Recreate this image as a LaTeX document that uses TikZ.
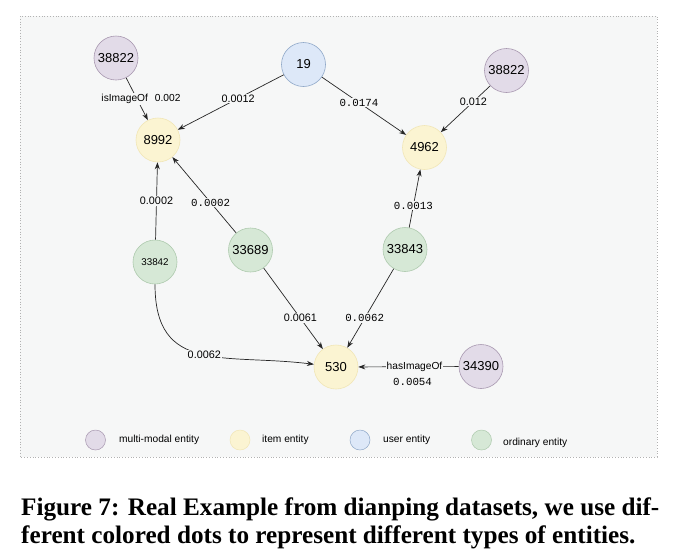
\documentclass[tikz,border=0pt]{standalone}
\usepackage{fontspec}
\setmainfont{Liberation Sans}
\newfontfamily\capfont{Liberation Serif}
\newfontfamily\monof{Liberation Mono}
\usetikzlibrary{arrows.meta}
\definecolor{bgc}{HTML}{F6F7F7}
\definecolor{mmfill}{HTML}{E2DBE8}
\definecolor{mmdraw}{HTML}{A898B0}
\definecolor{itfill}{HTML}{FBF4D2}
\definecolor{itdraw}{HTML}{F1E6B6}
\definecolor{usfill}{HTML}{DDE8F8}
\definecolor{usdraw}{HTML}{8FA8C8}
\definecolor{orfill}{HTML}{D6E8D6}
\definecolor{ordraw}{HTML}{AECAAE}
\begin{document}
\begin{tikzpicture}[x=1pt,y=-1pt,
  ent/.style={circle, minimum size=44pt, inner sep=0pt, line width=0.6pt, font=\fontsize{13}{15}\selectfont},
  mm/.style={ent, fill=mmfill, draw=mmdraw},
  it/.style={ent, fill=itfill, draw=itdraw},
  us/.style={ent, fill=usfill, draw=usdraw},
  od/.style={ent, fill=orfill, draw=ordraw},
  edge/.style={draw=black!85, line width=0.7pt, -{Stealth[length=7pt,width=5pt]}},
  lab/.style={fill=bgc, inner sep=1pt, font=\fontsize{10.8}{12}\selectfont},
  mlab/.style={lab, font=\monof\fontsize{10.8}{12}\selectfont},
  leg/.style={circle, minimum size=20pt, inner sep=0pt, line width=0.5pt},
  legtxt/.style={anchor=west, inner sep=0pt, font=\fontsize{10.2}{12}\selectfont},
  captxt/.style={anchor=base west, inner sep=0pt, font=\capfont\bfseries\fontsize{25.2}{28}\selectfont},
]
\useasboundingbox (0,0) rectangle (675,558);
\fill[white] (0,0) rectangle (675,558);
\draw[fill=bgc, draw=gray!60, dotted, line width=0.8pt] (20,16) rectangle (657,457);

% nodes
\node[mm] (a38822) at (116,58) {38822};
\node[us] (u19) at (303.5,64.5) {19};
\node[mm] (b38822) at (506.5,70.5) {38822};
\node[it] (i8992) at (158,140) {8992};
\node[it] (i4962) at (424.5,147.5) {4962};
\node[od, font=\fontsize{9.8}{11}\selectfont] (o33842) at (155,262) {33842};
\node[od] (o33689) at (250.5,250) {33689};
\node[od] (o33843) at (405,249.5) {33843};
\node[it] (i530) at (336,367) {530};
\node[mm] (m34390) at (481,366.5) {34390};

% edges
\draw[edge] (a38822) -- node[lab, pos=0.5, xshift=4pt, font=\fontsize{10.2}{12}\selectfont] {isImageOf\hspace{7pt}0.002} (i8992);
\draw[edge] (u19) -- node[lab, pos=0.43] {0.0012} (i8992);
\draw[edge] (u19) -- node[mlab, pos=0.44] {0.0174} (i4962);
\draw[edge] (b38822) -- node[lab, pos=0.34] {0.012} (i4962);
\draw[edge] (o33842) -- node[lab, pos=0.5] {0.0002} (i8992);
\draw[edge] (o33689) -- node[mlab, pos=0.4] {0.0002} (i8992);
\draw[edge] (o33843) -- node[mlab, pos=0.38] {0.0013} (i4962);
\draw[edge] (o33689) -- node[lab, pos=0.62] {0.0061} (i530);
\draw[edge] (o33843) -- node[mlab, pos=0.625] {0.0062} (i530);
\draw[edge] (o33842) to[out=-90, in=173, looseness=1.3] node[lab, pos=0.52] {0.0062} (i530);
\draw[edge] (m34390) -- node[lab, pos=0.44, font=\fontsize{10.2}{12}\selectfont] {hasImageOf}
  node[mlab, fill=none, pos=0.46, yshift=-15pt] {0.0054} (i530);

% legend
\node[leg, fill=mmfill, draw=mmdraw] (l1) at (95.5,440) {};
\node[legtxt] (t1) at (119,440) {multi-modal entity};
\node[leg, fill=itfill, draw=itdraw] (l2) at (240,440) {};
\node[legtxt] (t2) at (262,440) {item entity};
\node[leg, fill=usfill, draw=usdraw] (l3) at (360,440) {};
\node[legtxt] (t3) at (383,440) {user entity};
\node[leg, fill=orfill, draw=ordraw] (l4) at (481.5,440) {};
\node[legtxt] (t4) at (503,443) {ordinary entity};

% caption
\node[captxt] (cap1) at (21,515) {Figure 7: Real Example from dianping datasets, we use dif-};
\node[captxt] (cap2) at (21,543) {ferent colored dots to represent different types of entities.};
\end{tikzpicture}
\end{document}
